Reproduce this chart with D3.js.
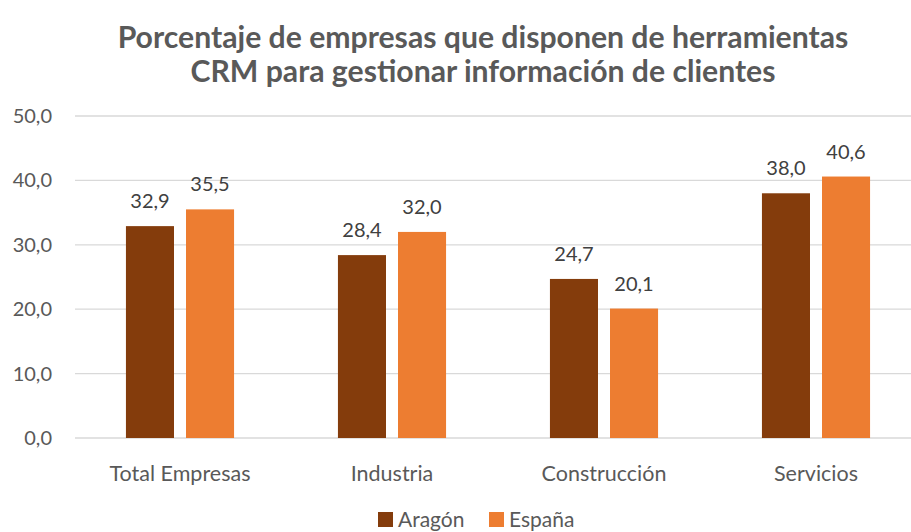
<!DOCTYPE html>
<html>
<head>
<meta charset="utf-8">
<script src="https://cdn.jsdelivr.net/npm/d3@7"></script>
<style>
  body { margin: 0; background: #fff; }
  svg { display: block; font-family: Lato, "Open Sans", sans-serif; }
</style>
</head>
<body>
<svg id="chart" width="911" height="532"></svg>
<script>
let WIDTH = 911, HEIGHT = 532;

const categories = ["Total Empresas", "Industria", "Construcción", "Servicios"];
const series = ["Aragón", "España"];
const aragon = [32.9, 28.4, 24.7, 38.0];
const espana = [35.5, 32.0, 20.1, 40.6];
const yTicks = [0, 10, 20, 30, 40, 50];
const titleLines = [
    "Porcentaje de empresas que disponen de herramientas",
    "CRM para gestionar información de clientes"
];
const colors = ["#843C0C", "#ED7D31"];

let svg = d3.select("#chart");
let fmt = v => d3.format(".1f")(v).replace(".", ",");

let x0 = d3.scaleBand().domain(categories).range([74, 922]).paddingInner(0.49).paddingOuter(0.245);
let x1 = d3.scaleBand().domain(series).range([0, x0.bandwidth()]).paddingInner(0.2);
let y = d3.scaleLinear().domain([0, 50]).range([438, 116]);

// title - fit width to the reference (line 1 ~731px wide)
let title = svg.append("g").selectAll("text")
    .data(titleLines)
    .join("text")
    .attr("x", 483)
    .attr("y", (d, i) => 48 + i * 34)
    .attr("text-anchor", "middle")
    .attr("font-size", 26)
    .attr("font-weight", "bold")
    .attr("fill", "#595959")
    .text(d => d);
let w0 = title.node().getComputedTextLength();
title.attr("font-size", Math.min(31, 26 * 731 / w0));

// grid
svg.append("g").selectAll("line")
    .data(yTicks)
    .join("line")
    .attr("x1", 75).attr("x2", WIDTH)
    .attr("y1", d => y(d)).attr("y2", d => y(d))
    .attr("stroke", "#D9D9D9")
    .attr("stroke-width", 1.3);

// y labels
svg.append("g").selectAll("text")
    .data(yTicks)
    .join("text")
    .attr("x", 52)
    .attr("y", d => y(d) + 7)
    .attr("text-anchor", "end")
    .attr("font-size", 20)
    .attr("fill", "#595959")
    .text(d => fmt(d));

// bars
let rows = categories.map((c, i) => ({ cat: c, vals: [aragon[i], espana[i]] }));
let groups = svg.append("g").selectAll("g")
    .data(rows)
    .join("g")
    .attr("transform", d => `translate(${x0(d.cat)},0)`);

groups.selectAll("rect")
    .data(d => d.vals.map((v, j) => ({ s: series[j], v: v, j: j })))
    .join("rect")
    .attr("x", d => x1(d.s))
    .attr("width", x1.bandwidth())
    .attr("y", d => y(d.v))
    .attr("height", d => y(0) - y(d.v))
    .attr("fill", d => colors[d.j]);

groups.selectAll("text")
    .data(d => d.vals.map((v, j) => ({ s: series[j], v: v, j: j })))
    .join("text")
    .attr("x", d => x1(d.s) + x1.bandwidth() / 2)
    .attr("y", d => y(d.v) - 18)
    .attr("text-anchor", "middle")
    .attr("font-size", 20)
    .attr("fill", "#404040")
    .text(d => fmt(d.v));

// category labels
svg.append("g").selectAll("text")
    .data(categories)
    .join("text")
    .attr("x", d => x0(d) + x0.bandwidth() / 2)
    .attr("y", 481)
    .attr("text-anchor", "middle")
    .attr("font-size", 21.5)
    .attr("fill", "#595959")
    .text(d => d);

// legend
let legX = [378, 489];
let leg = svg.append("g").selectAll("g")
    .data(series)
    .join("g")
    .attr("transform", (d, i) => `translate(${legX[i]},512)`);
leg.append("rect")
    .attr("width", 15).attr("height", 15)
    .attr("fill", (d, i) => colors[i]);
leg.append("text")
    .attr("x", 20)
    .attr("y", 15)
    .attr("font-size", 21)
    .attr("fill", "#595959")
    .text(d => d);
</script>
</body>
</html>
